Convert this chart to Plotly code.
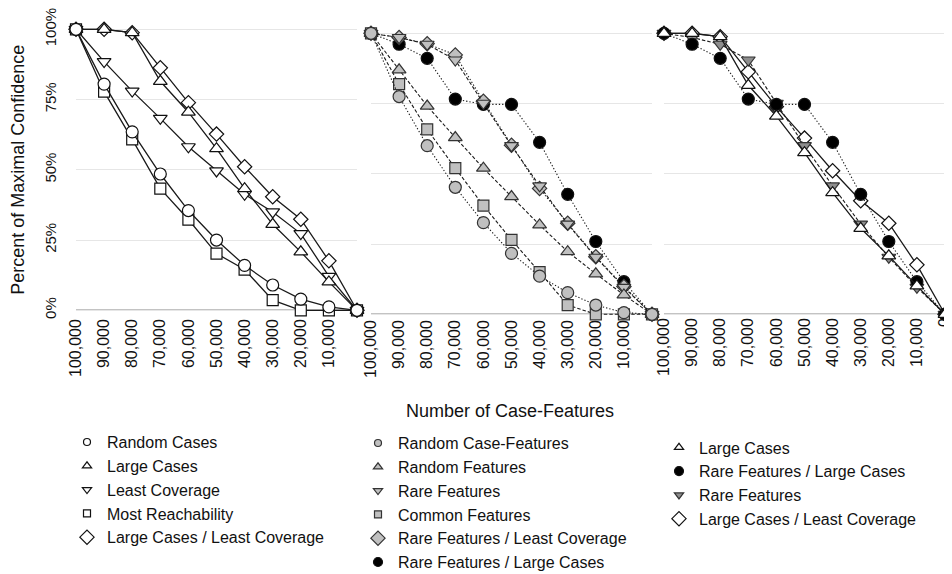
import plotly.graph_objects as go

# ---------------- data ----------------
case_features = [100000, 90000, 80000, 70000, 60000, 50000, 40000, 30000, 20000, 10000, 0]
tick_labels = ["100,000", "90,000", "80,000", "70,000", "60,000", "50,000",
               "40,000", "30,000", "20,000", "10,000", "0"]
pct_ticks = [0, 25, 50, 75, 100]
pct_labels = ["0%", "25%", "50%", "75%", "100%"]

# panel 1
random_cases = [100, 80.5, 63.5, 48.5, 35.5, 25.0, 16.0, 9.0, 4.0, 1.2, 0]
large_cases = [100, 100, 98.8, 81.5, 70.5, 57.5, 43.3, 30.6, 20.8, 10.1, 0]
least_coverage = [100, 88.5, 78.0, 68.3, 58.2, 49.6, 41.3, 35.0, 27.3, 12.1, 0]
most_reachability = [100, 77.8, 60.8, 43.3, 32.3, 20.2, 14.5, 3.6, 0, 0, 0]
large_cases_least_cov = [100, 100, 98.8, 86.3, 73.9, 62.7, 51.1, 40.4, 32.4, 17.6, 0]

# panel 2
random_case_features = [100, 77.5, 60.0, 45.2, 32.6, 21.7, 13.6, 7.7, 3.3, 0.6, 0]
random_features = [100, 87.0, 74.1, 62.9, 52.0, 41.9, 31.8, 22.3, 14.4, 6.9, 0]
rare_features = [100, 98.5, 96.1, 90.5, 75.1, 60.0, 45.7, 32.1, 20.3, 9.6, 0]
common_features = [100, 81.9, 65.8, 52.0, 38.7, 26.5, 15.0, 3.3, 0, 0, 0]
rare_features_least_cov = [100, 98.5, 96.3, 92.3, 75.8, 60.2, 44.8, 32.4, 20.5, 9.9, 0]
rare_features_large_cases = [100, 96.1, 91.1, 76.6, 74.7, 74.7, 61.2, 42.7, 25.9, 11.6, 0]

# panel 3 (best strategies compared)
p3_large_cases = large_cases
p3_rare_features_large_cases = rare_features_large_cases
p3_rare_features = rare_features
p3_large_cases_least_cov = large_cases_least_cov

# ---------------- figure ----------------
# the page body keeps an 8px margin, so the figure is sized to the visible area
W, H = 944, 566
OFF = 8  # screen offset of the figure inside the page
fig = go.Figure()

LINE = "#1a1a1a"
GRAY = "#c0c0c0"
DGRAY = "#8e8e8e"
DOT = "1.3px,2px"
DASH = "3.5px,2px"

def series(y, xa, ya, symbol, fill, size, dash, width=1.3, outline="#111111"):
    fig.add_trace(go.Scatter(
        x=case_features, y=y, xaxis=xa, yaxis=ya, mode="lines+markers",
        line=dict(color=LINE, width=width, dash=dash),
        marker=dict(symbol=symbol, size=size, color=fill,
                    line=dict(color=outline, width=1.2)),
        cliponaxis=False, showlegend=False, hoverinfo="skip"))

def key(name, legend, symbol, fill, size, outline="#111111"):
    fig.add_trace(go.Scatter(
        x=[None], y=[None], mode="markers", name=name, legend=legend,
        marker=dict(symbol=symbol, size=size, color=fill,
                    line=dict(color=outline, width=1.2)),
        showlegend=True))

# panel 1 (drawn in reverse so first-listed ends up on top)
series(large_cases_least_cov, "x", "y", "diamond", "white", 11, "solid")
series(most_reachability, "x", "y", "square", "white", 11, "solid")
series(least_coverage, "x", "y", "triangle-down", "white", 12, "solid")
series(large_cases, "x", "y", "triangle-up", "white", 12, "solid")
series(random_cases, "x", "y", "circle", "white", 12, "solid")

# panel 2
series(rare_features_large_cases, "x2", "y2", "circle", "black", 12, DOT, 1.1)
series(rare_features_least_cov, "x2", "y2", "diamond", GRAY, 11, DOT, 1.1, "#333333")
series(common_features, "x2", "y2", "square", GRAY, 11, DASH, 1.1, "#333333")
series(rare_features, "x2", "y2", "triangle-down", GRAY, 12, DASH, 1.1, "#333333")
series(random_features, "x2", "y2", "triangle-up", GRAY, 12, DASH, 1.1, "#333333")
series(random_case_features, "x2", "y2", "circle", GRAY, 12, DOT, 1.1, "#333333")

# panel 3
series(p3_large_cases_least_cov, "x3", "y3", "diamond", "white", 11, "solid")
series(p3_rare_features, "x3", "y3", "triangle-down", DGRAY, 12, DASH, 1.1, "#333333")
series(p3_rare_features_large_cases, "x3", "y3", "circle", "black", 12, DOT, 1.1)
series(p3_large_cases, "x3", "y3", "triangle-up", "white", 12, "solid")

# legend keys
key("Random Cases", "legend", "circle", "white", 7)
key("Large Cases", "legend", "triangle-up", "white", 8)
key("Least Coverage", "legend", "triangle-down", "white", 8)
key("Most Reachability", "legend", "square", "white", 7)
key("Large Cases / Least Coverage", "legend", "diamond", "white", 11)

key("Random Case-Features", "legend2", "circle", GRAY, 7, "#333333")
key("Random Features", "legend2", "triangle-up", GRAY, 8, "#333333")
key("Rare Features", "legend2", "triangle-down", GRAY, 8, "#333333")
key("Common Features", "legend2", "square", GRAY, 7, "#333333")
key("Rare Features / Least Coverage", "legend2", "diamond", GRAY, 11, "#333333")
key("Rare Features / Large Cases", "legend2", "circle", "black", 9)

key("Large Cases", "legend3", "triangle-up", "white", 8)
key("Rare Features / Large Cases", "legend3", "circle", "black", 9)
key("Rare Features", "legend3", "triangle-down", DGRAY, 8, "#333333")
key("Large Cases / Least Coverage", "legend3", "diamond", "white", 11)

# helpers taking on-screen pixel positions
def px_x(a, b):
    return [(a - OFF) / W, (b - OFF) / W]

def px_y(top, bottom):
    return [1 - (bottom - OFF) / H, 1 - (top - OFF) / H]

FONT = "Liberation Sans, Arial, Helvetica, sans-serif"
TICKF = dict(family=FONT, size=16, color="#111111")
YTICKF = dict(family=FONT, size=15, color="#111111")

def xaxis(dom, vals, labels, anchor, standoff):
    return dict(domain=dom, anchor=anchor, range=[100000, 0], showgrid=False,
                zeroline=False, showline=False, ticks="", tickmode="array",
                tickvals=vals, ticktext=labels, tickangle=-90, tickfont=TICKF,
                ticklabelstandoff=standoff, ticklabeloverflow="allow",
                automargin=False)

def yaxis(dom, anchor, show):
    return dict(domain=dom, anchor=anchor, range=[-2, 102], showgrid=True,
                gridcolor="#e6e6e6", gridwidth=1, zeroline=False, showline=False,
                ticks="", tickmode="array", tickvals=pct_ticks, ticktext=pct_labels,
                showticklabels=show, tickangle=-90, tickfont=YTICKF,
                ticklabelstandoff=16, ticklabeloverflow="allow", automargin=False)

# pixel geometry: value 0 -> bottom, 100 -> top (2% padding each side)
s = 281.0 / 100
p1_top, p1_bot = 29.3 - 2 * s, 310.3 + 2 * s
p2_top, p2_bot = 33.3 - 2 * s, 314.3 + 2 * s

xa1 = xaxis(px_x(76, 357), case_features[:-1], tick_labels[:-1], "y", -1)
xa2 = xaxis(px_x(371, 652), case_features[:-1], tick_labels[:-1], "y2", -4)
xa3 = xaxis(px_x(664, 945), case_features, tick_labels, "y3", -6)

ya1 = yaxis(px_y(p1_top, p1_bot), "x", True)
ya1["title"] = dict(text="Percent of Maximal Confidence",
                    font=dict(family=FONT, size=18, color="#111111"), standoff=15)
ya2 = yaxis(px_y(p2_top, p2_bot), "x2", False)
ya3 = yaxis(px_y(p2_top, p2_bot), "x3", False)

# black baseline at 0%
for xr, yr in (("x domain", "y"), ("x2 domain", "y2"), ("x3 domain", "y3")):
    fig.add_shape(type="line", xref=xr, yref=yr, x0=0, x1=1, y0=0, y1=0,
                  line=dict(color="#111111", width=1.3), layer="below")

LEGF = dict(family=FONT, size=16, color="#111111")

def legend(xpx, ypx):
    return dict(x=(xpx - OFF) / W, y=1 - (ypx - OFF) / H, xanchor="left", yanchor="top",
                bgcolor="rgba(0,0,0,0)", borderwidth=0, font=LEGF,
                itemclick=False, itemdoubleclick=False)

fig.update_layout(
    width=W, height=H,
    margin=dict(l=0, r=0, t=0, b=0, autoexpand=False),
    paper_bgcolor="white", plot_bgcolor="white",
    font=dict(family=FONT, color="#111111"),
    xaxis=xa1, xaxis2=xa2, xaxis3=xa3,
    yaxis=ya1, yaxis2=ya2, yaxis3=ya3,
    legend=legend(67, 425.1),
    legend2=legend(358, 426.1),
    legend3=legend(659, 430.4),
    annotations=[dict(text="Number of Case-Features",
                      x=(510 - OFF) / W, y=1 - (411 - OFF) / H,
                      xref="paper", yref="paper", xanchor="center", yanchor="middle",
                      showarrow=False,
                      font=dict(family=FONT, size=18, color="#111111"))],
)

fig.write_html("out.html")
